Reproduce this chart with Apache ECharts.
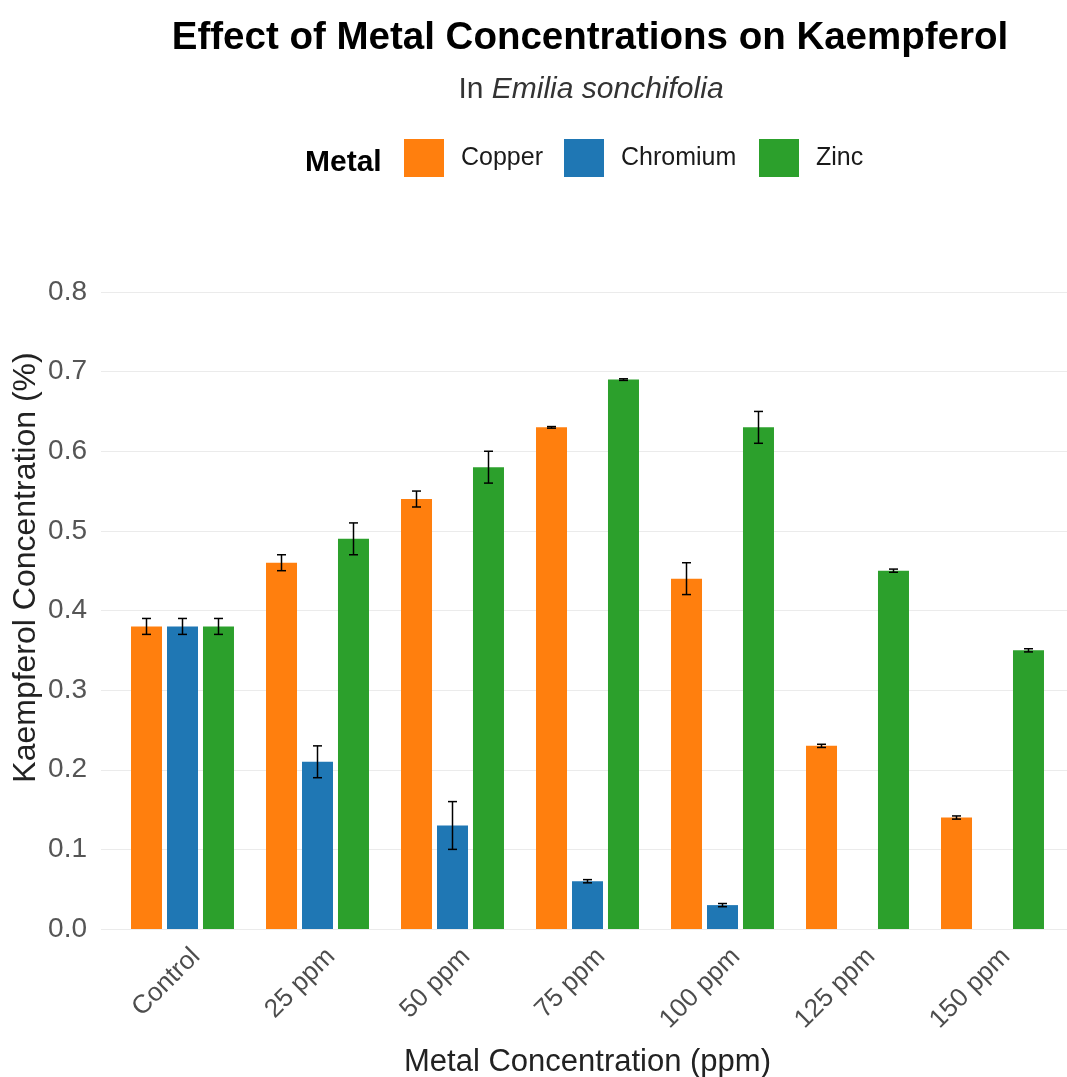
<!DOCTYPE html>
<html>
<head>
<meta charset="utf-8">
<script src="https://cdn.jsdelivr.net/npm/echarts@6/dist/echarts.min.js"></script>
<style>
  html, body { margin: 0; padding: 0; background: #ffffff; }
  #chart { width: 1067px; height: 1077px; }
</style>
</head>
<body>
<div id="chart"></div>
<script>
const categories = ['Control', '25 ppm', '50 ppm', '75 ppm', '100 ppm', '125 ppm', '150 ppm'];
const copper     = [0.38, 0.46, 0.54, 0.63, 0.44, 0.23, 0.14];
const chromium   = [0.38, 0.21, 0.13, 0.06, 0.03, null, null];
const zinc       = [0.38, 0.49, 0.58, 0.69, 0.63, 0.45, 0.35];
const copperErr   = [0.01, 0.01, 0.01, 0.001, 0.02, 0.002, 0.002];
const chromiumErr = [0.01, 0.02, 0.03, 0.002, 0.002, null, null];
const zincErr     = [0.01, 0.02, 0.02, 0.001, 0.02, 0.002, 0.002];
const seriesNames = ['Copper', 'Chromium', 'Zinc'];
const colors = ['#ff7f0e', '#1f77b4', '#2ca02c'];

const FONT = '"Liberation Sans", Arial, sans-serif';
const BAR_W = 31;
const BAR_GAP = 5;
const CAP = 9;

function errData(vals, errs) {
  const out = [];
  vals.forEach((v, i) => {
    if (v != null && errs[i] != null) out.push([i, v - errs[i], v + errs[i]]);
  });
  return out;
}

function errRender(slot) {
  return function (params, api) {
    const idx = api.value(0);
    const lo = api.coord([idx, api.value(1)]);
    const hi = api.coord([idx, api.value(2)]);
    const cx = lo[0] + slot * (BAR_W + BAR_GAP);
    const st = { stroke: '#000', lineWidth: 1.5 };
    return {
      type: 'group',
      children: [
        { type: 'line', shape: { x1: cx, y1: lo[1], x2: cx, y2: hi[1] }, style: st },
        { type: 'line', shape: { x1: cx - CAP / 2, y1: lo[1], x2: cx + CAP / 2, y2: lo[1] }, style: st },
        { type: 'line', shape: { x1: cx - CAP / 2, y1: hi[1], x2: cx + CAP / 2, y2: hi[1] }, style: st }
      ]
    };
  };
}

const chart = echarts.init(document.getElementById('chart'), null, { renderer: 'canvas' });

const legendLefts = [404, 564, 759];
const legends = seriesNames.map((n, i) => ({
  data: [n],
  left: legendLefts[i],
  top: 139,
  orient: 'horizontal',
  icon: 'rect',
  itemWidth: 40,
  itemHeight: 38,
  selectedMode: false,
  padding: 0,
  textStyle: { fontFamily: FONT, fontSize: 25, color: '#1a1a1a', padding: [0, 0, 0, 12] }
}));

const option = {
  backgroundColor: '#ffffff',
  animation: false,
  color: colors,
  title: [
    {
      text: 'Effect of Metal Concentrations on Kaempferol',
      left: 585, top: 14, textAlign: 'center',
      textStyle: { fontFamily: FONT, fontWeight: 'bold', fontSize: 38.5, color: '#000' }
    },
    {
      text: '{n|In }{i|Emilia sonchifolia}',
      left: 586, top: 70, textAlign: 'center',
      textStyle: {
        fontFamily: FONT, fontSize: 30, fontWeight: 'normal', color: '#333',
        rich: {
          n: { fontFamily: FONT, fontSize: 30, fontWeight: 'normal', color: '#333' },
          i: { fontFamily: FONT, fontSize: 30, fontWeight: 'normal', color: '#333', fontStyle: 'italic' }
        }
      }
    },
    {
      text: 'Metal',
      left: 300, top: 143,
      textStyle: { fontFamily: FONT, fontWeight: 'bold', fontSize: 30, color: '#000' }
    }
  ],
  legend: legends,
  grid: [
    { left: 101, right: 0, top: 292, bottom: 148, containLabel: false, outerBoundsMode: 'none' },
    { left: 115, right: 7, top: 292, bottom: 148, containLabel: false, outerBoundsMode: 'none' }
  ],
  xAxis: [
    {
      type: 'category', gridIndex: 0, data: categories,
      axisLine: { show: false }, axisTick: { show: false }, axisLabel: { show: false },
      splitLine: { show: false }
    },
    {
      type: 'category', gridIndex: 1, data: categories,
      axisLine: { show: false }, axisTick: { show: false },
      splitLine: { show: false },
      axisLabel: {
        rotate: 45, interval: 0, margin: 37,
        fontFamily: FONT, fontSize: 26, color: '#4d4d4d',
        padding: [0, -19, 0, 0]
      },
      name: 'Metal Concentration (ppm)',
      nameLocation: 'middle', nameGap: 118,
      nameTextStyle: { fontFamily: FONT, fontSize: 31, color: '#222' }
    }
  ],
  yAxis: [
    {
      type: 'value', gridIndex: 0, min: 0, max: 0.8, interval: 0.1,
      axisLine: { show: false }, axisTick: { show: false },
      axisLabel: {
        margin: 14, fontFamily: FONT, fontSize: 28, color: '#555',
        formatter: v => v.toFixed(1)
      },
      splitLine: { show: true, lineStyle: { color: '#ebebeb', width: 1.2 } },
      name: 'Kaempferol Concentration (%)',
      nameLocation: 'middle', nameGap: 59, nameRotate: 90, nameMoveOverlap: false,
      nameTextStyle: { fontFamily: FONT, fontSize: 32, color: '#222', padding: [0, 0, 0, 86] }
    },
    {
      type: 'value', gridIndex: 1, min: 0, max: 0.8, interval: 0.1,
      axisLine: { show: false }, axisTick: { show: false },
      axisLabel: { show: false }, splitLine: { show: false }
    }
  ],
  series: [
    { name: 'Copper', type: 'bar', xAxisIndex: 1, yAxisIndex: 1, data: copper,
      barWidth: BAR_W, barGap: (BAR_GAP / BAR_W * 100).toFixed(1) + '%', itemStyle: { color: colors[0] } },
    { name: 'Chromium', type: 'bar', xAxisIndex: 1, yAxisIndex: 1, data: chromium,
      barWidth: BAR_W, barGap: (BAR_GAP / BAR_W * 100).toFixed(1) + '%', itemStyle: { color: colors[1] } },
    { name: 'Zinc', type: 'bar', xAxisIndex: 1, yAxisIndex: 1, data: zinc,
      barWidth: BAR_W, barGap: (BAR_GAP / BAR_W * 100).toFixed(1) + '%', itemStyle: { color: colors[2] } },
    { type: 'custom', name: 'Copper err', xAxisIndex: 1, yAxisIndex: 1, z: 10,
      renderItem: errRender(-1), data: errData(copper, copperErr), encode: { x: 0, y: [1, 2] } },
    { type: 'custom', name: 'Chromium err', xAxisIndex: 1, yAxisIndex: 1, z: 10,
      renderItem: errRender(0), data: errData(chromium, chromiumErr), encode: { x: 0, y: [1, 2] } },
    { type: 'custom', name: 'Zinc err', xAxisIndex: 1, yAxisIndex: 1, z: 10,
      renderItem: errRender(1), data: errData(zinc, zincErr), encode: { x: 0, y: [1, 2] } }
  ]
};
chart.setOption(option);
</script>
</body>
</html>
